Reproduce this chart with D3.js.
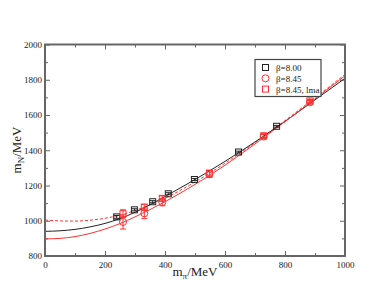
<!DOCTYPE html>
<html>
<head>
<meta charset="utf-8">
<script src="https://cdn.jsdelivr.net/npm/d3@7"></script>
<style>
  body { margin: 0; background: #fff; }
  text { font-family: "Liberation Serif", "Times New Roman", serif; }
</style>
</head>
<body>
<div id="chart"></div>
<script>
// data
var xTicks = [0, 200, 400, 600, 800, 1000];
var yTicks = [800, 1000, 1200, 1400, 1600, 1800, 2000];

// beta = 8.00 (black squares)
var b800X = [239, 298, 359, 411, 498, 645, 772];
var b800Y = [1022, 1062, 1108, 1153, 1234, 1390, 1536];
var b800E = [8, 6, 6, 6, 6, 5, 5];

// beta = 8.45 (red circles)
var b845X = [260, 331, 391, 548, 729, 883];
var b845Y = [993, 1042, 1105, 1265, 1478, 1672];
var b845E = [40, 30, 20, 20, 12, 10];

// beta = 8.45, lma (red squares)
var lmaX = [260, 331, 391, 548, 729, 883];
var lmaY = [1040, 1077, 1127, 1270, 1482, 1680];
var lmaE = [22, 16, 14, 16, 10, 8];

// fit curves
var fitX = [0, 50, 100, 150, 200, 250, 300, 400, 500, 600, 700, 800, 900, 1000];
var fitBlack = [940, 943, 951, 965, 985, 1012, 1048, 1138, 1234, 1337, 1447, 1564, 1686, 1808];
var fitRed = [897, 900, 910, 928, 953, 984, 1022, 1108, 1206, 1315, 1436, 1562, 1692, 1822];
var fitRedDash = [1004, 999, 998, 1003, 1014, 1032, 1058, 1128, 1220, 1326, 1443, 1568, 1698, 1830];

var legendLabels = ["\u03b2=8.00", "\u03b2=8.45", "\u03b2=8.45, lma"];

var svgWidth = 388;
var svgHeight = 300;
var margin = { top: 44.5, right: 43, bottom: 44, left: 45 };
var width = svgWidth - margin.left - margin.right;
var height = svgHeight - margin.top - margin.bottom;

var svg = d3.select("#chart")
  .append("svg")
  .attr("width", svgWidth)
  .attr("height", svgHeight);

svg.append("rect").attr("width", svgWidth).attr("height", svgHeight).attr("fill", "#fff");

var chartGroup = svg.append("g")
  .attr("transform", `translate(${margin.left}, ${margin.top})`);

var x = d3.scaleLinear().domain([0, 1000]).range([0, width]);
var y = d3.scaleLinear().domain([800, 2000]).range([height, 0]);

var axisColor = "#666";
var minorX = d3.range(100, 1000, 200);
var minorY = d3.range(900, 2000, 200);
var fmt = d3.format("d");

function styleAxis(g) {
  g.select(".domain").remove();
  g.selectAll("line").attr("stroke", axisColor).attr("stroke-width", 1);
  g.selectAll("text").attr("fill", "#222").attr("font-size", "9px");
}

// bottom
chartGroup.append("g").attr("transform", `translate(0, ${height})`)
  .call(d3.axisBottom(x).tickValues(xTicks).tickSize(-5).tickPadding(6).tickFormat(fmt))
  .call(styleAxis);
chartGroup.append("g").attr("transform", `translate(0, ${height})`)
  .call(d3.axisBottom(x).tickValues(minorX).tickSize(-3).tickFormat(""))
  .call(styleAxis);
// top
chartGroup.append("g")
  .call(d3.axisTop(x).tickValues(xTicks).tickSize(-5).tickFormat(""))
  .call(styleAxis);
chartGroup.append("g")
  .call(d3.axisTop(x).tickValues(minorX).tickSize(-3).tickFormat(""))
  .call(styleAxis);
// left
chartGroup.append("g")
  .call(d3.axisLeft(y).tickValues(yTicks).tickSize(-5).tickPadding(3).tickFormat(fmt))
  .call(styleAxis);
chartGroup.append("g")
  .call(d3.axisLeft(y).tickValues(minorY).tickSize(-3).tickFormat(""))
  .call(styleAxis);
// right
chartGroup.append("g").attr("transform", `translate(${width}, 0)`)
  .call(d3.axisRight(y).tickValues(yTicks).tickSize(-5).tickFormat(""))
  .call(styleAxis);
chartGroup.append("g").attr("transform", `translate(${width}, 0)`)
  .call(d3.axisRight(y).tickValues(minorY).tickSize(-3).tickFormat(""))
  .call(styleAxis);

// fit curves
var line = d3.line()
  .x(d => x(d[0]))
  .y(d => y(d[1]))
  .curve(d3.curveMonotoneX);

chartGroup.append("path")
  .attr("d", line(fitX.map((v, i) => [v, fitRedDash[i]])))
  .attr("fill", "none").attr("stroke", "#ff3030").attr("stroke-width", 1)
  .attr("stroke-dasharray", "3,2");
chartGroup.append("path")
  .attr("d", line(fitX.map((v, i) => [v, fitBlack[i]])))
  .attr("fill", "none").attr("stroke", "#222").attr("stroke-width", 1);
chartGroup.append("path")
  .attr("d", line(fitX.map((v, i) => [v, fitRed[i]])))
  .attr("fill", "none").attr("stroke", "#ff3030").attr("stroke-width", 1);

// error bars + markers
function drawSeries(xs, ys, es, color, shape) {
  var pts = xs.map((v, i) => ({ x: v, y: ys[i], e: es[i] }));
  var g = chartGroup.append("g").attr("stroke", color).attr("fill", "none").attr("stroke-width", 1);
  pts.forEach(function(d) {
    var cx = x(d.x), top = y(d.y + d.e), bot = y(d.y - d.e);
    g.append("line").attr("x1", cx).attr("x2", cx).attr("y1", top).attr("y2", bot);
    g.append("line").attr("x1", cx - 3).attr("x2", cx + 3).attr("y1", top).attr("y2", top);
    g.append("line").attr("x1", cx - 3).attr("x2", cx + 3).attr("y1", bot).attr("y2", bot);
  });
  if (shape === "square") {
    g.selectAll("rect.m").data(pts).enter().append("rect")
      .attr("x", d => x(d.x) - 3).attr("y", d => y(d.y) - 3)
      .attr("width", 6).attr("height", 6).attr("fill", "none");
  } else {
    g.selectAll("circle.m").data(pts).enter().append("circle")
      .attr("cx", d => x(d.x)).attr("cy", d => y(d.y))
      .attr("r", 3.5).attr("fill", "none");
  }
}
drawSeries(b800X, b800Y, b800E, "#222", "square");
drawSeries(b845X, b845Y, b845E, "#ff3030", "circle");
drawSeries(lmaX, lmaY, lmaE, "#ff3030", "square");

// frame
chartGroup.append("rect")
  .attr("width", width).attr("height", height)
  .attr("fill", "none").attr("stroke", axisColor).attr("stroke-width", 2);

// legend
var legend = chartGroup.append("g").attr("transform", "translate(210, 15)");
legend.append("rect").attr("width", 66).attr("height", 37)
  .attr("fill", "#fff").attr("stroke", "#444").attr("stroke-width", 1.2);
var legColors = ["#222", "#ff3030", "#ff3030"];
var legShapes = ["square", "circle", "square"];
legendLabels.forEach(function(t, i) {
  var ly = 8 + i * 10.8;
  if (legShapes[i] === "square") {
    legend.append("rect").attr("x", 7.5).attr("y", ly - 3).attr("width", 6).attr("height", 6)
      .attr("fill", "none").attr("stroke", legColors[i]);
  } else {
    legend.append("circle").attr("cx", 10.5).attr("cy", ly).attr("r", 3.5)
      .attr("fill", "none").attr("stroke", legColors[i]);
  }
  legend.append("text").attr("x", 21).attr("y", ly + 3.5)
    .attr("font-size", "9px").attr("fill", "#222").text(t);
});

// axis titles
var xt = svg.append("text")
  .attr("x", 195).attr("y", 276)
  .attr("text-anchor", "middle").attr("font-size", "13px").attr("fill", "#222");
xt.append("tspan").text("m");
xt.append("tspan").attr("font-size", "9px").attr("dy", 3).text("\u03c0");
xt.append("tspan").attr("dy", -3).text("/MeV");

var yt = svg.append("text")
  .attr("transform", "translate(21, 150) rotate(-90)")
  .attr("text-anchor", "middle").attr("font-size", "13px").attr("fill", "#222");
yt.append("tspan").text("m");
yt.append("tspan").attr("font-size", "9px").attr("dy", 3).text("N");
yt.append("tspan").attr("dy", -3).text("/MeV");
</script>
</body>
</html>
